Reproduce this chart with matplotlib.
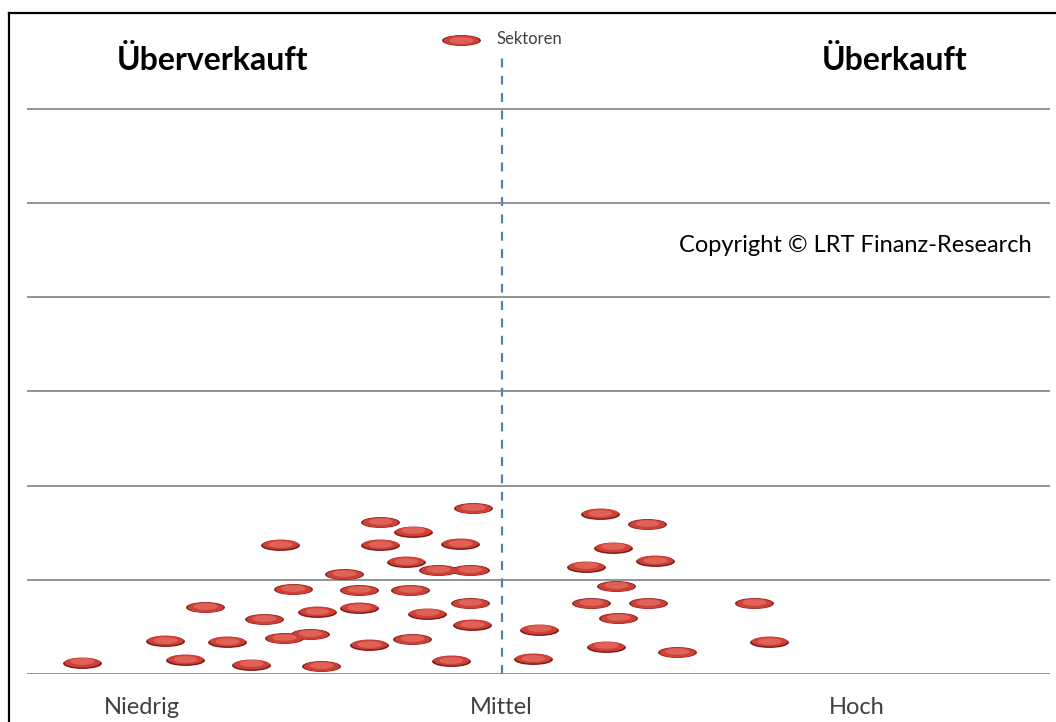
import numpy as np
import matplotlib
matplotlib.use("Agg")
import matplotlib.pyplot as plt
from matplotlib.path import Path
from matplotlib.transforms import Affine2D, offset_copy
from matplotlib.lines import Line2D
from matplotlib.legend_handler import HandlerTuple

plt.rcParams['font.family'] = ['Lato', 'DejaVu Sans']

# sector positions (x: Niedrig .. Mittel(0) .. Hoch, y: level)
sektor_x = [-4.20, -3.37, -3.17, -2.97, -2.75, -2.51, -2.38, -2.22, -2.18, -2.09,
            -1.92, -1.85, -1.81, -1.58, -1.43, -1.43, -1.33, -1.22, -1.22, -0.89,
            -0.96, -0.92, -0.90, -0.75, -0.64, -0.51, -0.42, -0.32, -0.32, -0.29,
            -0.30, 0.98, 1.45, 1.11, 1.53, 0.84, 1.14, 0.89, 1.46, 1.16,
            0.37, 1.04, 0.31, 1.75, 2.52, 2.67]
sektor_y = [0.12, 0.35, 0.15, 0.71, 0.34, 0.10, 0.58, 1.37, 0.38, 0.90,
            0.42, 0.66, 0.08, 1.06, 0.89, 0.70, 0.31, 1.61, 1.37, 1.51,
            1.19, 0.89, 0.37, 0.64, 1.10, 0.14, 1.38, 0.75, 1.10, 1.76,
            0.52, 1.70, 1.59, 1.34, 1.20, 1.14, 0.93, 0.75, 0.75, 0.59,
            0.47, 0.29, 0.16, 0.23, 0.75, 0.34]

level_lines = [0, 1, 2, 3, 4, 5, 6]
bottom_labels = ['Niedrig', 'Mittel', 'Hoch']
titles = ['Überverkauft', 'Überkauft']
legend_label = 'Sektoren'
copyright_text = 'Copyright © LRT Finanz-Research'

W, H = 1056, 722
fig = plt.figure(figsize=(W / 100, H / 100), dpi=100)


def fx(px):
    return px / W


def fy(py):
    return 1 - py / H


# plot area in pixels of the reference
ax = fig.add_axes([fx(27), fy(674), fx(1050) - fx(27), fy(22) - fy(674)])
ax.set_xlim(-4.75, 5.48)
ax.set_ylim(0, 6.92)
ax.axis('off')

for lv in level_lines:
    ax.axhline(lv, color='#8a8a8a', lw=1.3, zorder=1)

ax.plot([0, 0], [0, 6.58], color='#4f81bd', lw=1.6, dashes=[4, 3.8], zorder=2)

# flat ellipse marker with a little shading
ell = Path.unit_circle().transformed(Affine2D().scale(1, 0.28))
ms = 28
dark = ax.scatter(sektor_x, sektor_y, s=ms ** 2, marker=ell, c='#7d1c17',
                  linewidths=0, zorder=3)
mid = ax.scatter(sektor_x, sektor_y, s=(ms * 0.92) ** 2, marker=ell, c='#cd4037',
                 linewidths=0, zorder=4,
                 transform=offset_copy(ax.transData, fig=fig, y=0.4, units='points'))
hi = ax.scatter(sektor_x, sektor_y, s=(ms * 0.62) ** 2, marker=ell, c='#e2665c',
                linewidths=0, zorder=5, alpha=0.9,
                transform=offset_copy(ax.transData, fig=fig, y=0.9, units='points'))

ax.legend([(dark, mid, hi)], [legend_label], handler_map={tuple: HandlerTuple(ndivide=1)},
          frameon=False, loc='center left', bbox_to_anchor=(fx(438), fy(39)),
          bbox_transform=fig.transFigure, fontsize=12, labelcolor='#404040',
          handletextpad=1.2, handlelength=1.8, borderpad=0, scatterpoints=1)

# frame (only top and left visible)
fig.add_artist(Line2D([fx(8.5), 1], [fy(12.5), fy(12.5)], color='black', lw=1.6))
fig.add_artist(Line2D([fx(8.5), fx(8.5)], [fy(12.5), 0], color='black', lw=1.6))

fig.text(fx(213), fy(60), titles[0], ha='center', va='center', fontsize=23,
         fontweight='bold', color='black')
fig.text(fx(895), fy(60), titles[1], ha='center', va='center', fontsize=23,
         fontweight='bold', color='black')
fig.text(fx(855), fy(245), copyright_text, ha='center', va='center', fontsize=17,
         color='black')

for lab, px in zip(bottom_labels, [142, 501, 857]):
    fig.text(fx(px), fy(708), lab, ha='center', va='center', fontsize=17,
             color='#404040')

fig.savefig('out.png', dpi=100, facecolor='white')
